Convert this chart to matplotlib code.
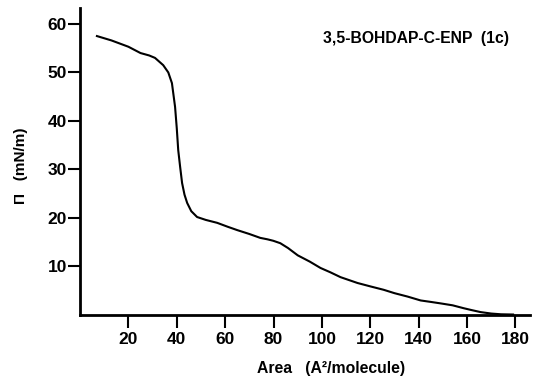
import matplotlib
matplotlib.use("Agg")
import matplotlib.pyplot as plt

plt.rcParams["font.family"] = ["Liberation Sans", "DejaVu Sans"]
plt.rcParams["font.weight"] = "bold"

# surface pressure isotherm, read as (area, pressure) pairs
area = [7, 13, 20, 25, 28.6, 31, 34.4, 36.5, 38, 39.3, 40.0, 40.6, 41.4, 42.2,
        43.2, 44.3, 46.0, 48.4, 52, 56.7, 61, 65, 70, 74.5, 77.5, 79.9, 82.8,
        86, 90, 95, 99.4, 103.5, 107.7, 114.7, 120, 125.5, 130, 135.4, 140.8,
        145, 149, 154, 158.6, 162, 165.6, 170, 174, 179]
pressure = [57.5, 56.6, 55.3, 54.0, 53.5, 53.0, 51.5, 50.0, 47.8, 42.9, 38.5,
            34.0, 30.5, 27.2, 24.8, 23.1, 21.4, 20.2, 19.6, 19.0, 18.2, 17.5,
            16.7, 15.9, 15.6, 15.3, 14.8, 13.8, 12.3, 11.0, 9.7, 8.8, 7.8, 6.6,
            5.9, 5.2, 4.5, 3.8, 3.0, 2.7, 2.4, 2.0, 1.4, 1.0, 0.6, 0.3, 0.15, 0.1]

xticks = [20, 40, 60, 80, 100, 120, 140, 160, 180]
yticks = [10, 20, 30, 40, 50, 60]

fig = plt.figure(figsize=(5.34, 3.81), dpi=100)
ax = fig.add_axes([0.1498, 0.1732, 0.8427, 0.806])

ax.plot(area, pressure, color="black", linewidth=1.5)

ax.set_xlim(0, 186)
ax.set_ylim(0, 63.3)
ax.set_xticks(xticks)
ax.set_yticks(yticks)
ax.tick_params(axis="both", direction="out", length=9, width=1.5,
               labelsize=12.5, pad=0.5)
ax.tick_params(axis="x", pad=3)

for side in ("top", "right"):
    ax.spines[side].set_visible(False)
for side in ("left", "bottom"):
    ax.spines[side].set_linewidth(2)

fig.text(0.04, 0.565, "Π   (mN/m)", rotation=90, ha="center", va="center",
         fontsize=11, fontweight="bold")
fig.text(0.62, 0.012, "Area   (A²/molecule)", ha="center", va="bottom",
         fontsize=11.3, fontweight="bold")
ax.text(0.54, 0.9, "3,5-BOHDAP-C-ENP  (1c)", transform=ax.transAxes,
        ha="left", va="center", fontsize=11.3, fontweight="bold")

fig.savefig("out.png", dpi=100)
